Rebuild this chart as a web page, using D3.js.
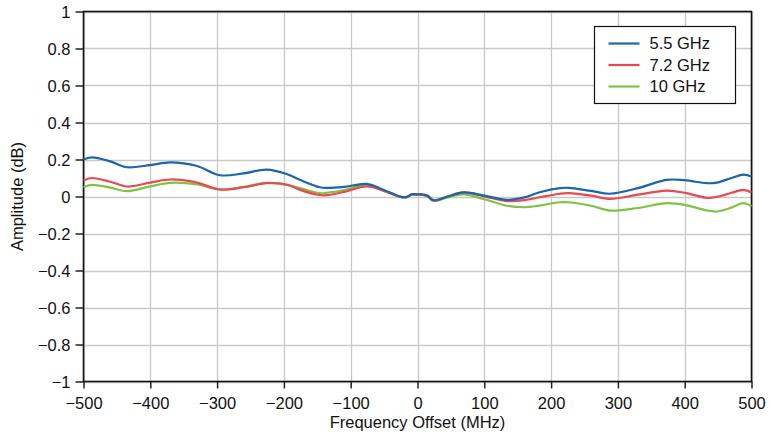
<!DOCTYPE html>
<html>
<head>
<meta charset="utf-8">
<script src="https://cdn.jsdelivr.net/npm/d3@7"></script>
<style>
  body { margin: 0; background: #fff; }
  text { font-family: "Liberation Sans", Arial, sans-serif; }
</style>
</head>
<body>
<div id="chart-area"></div>
<script>
// frequency offsets (MHz) shared by the three traces
var offsets = [-500, -488, -460, -435, -400, -370, -330, -296, -260, -226, -196, -176, -146, -136, -110, -76, -50, -26, -16, -9, 0, 6, 15, 24, 45, 69, 100, 134, 160, 183, 213, 226, 260, 288, 330, 373, 400, 433, 448, 470, 488, 500]

var amp55 = [0.200, 0.212, 0.190, 0.158, 0.170, 0.185, 0.165, 0.115, 0.125, 0.145, 0.122, 0.090, 0.050, 0.047, 0.052, 0.068, 0.035, 0.000, -0.002, 0.012, 0.012, 0.012, 0.005, -0.020, 0.000, 0.022, 0.005, -0.018, -0.005, 0.023, 0.045, 0.047, 0.030, 0.015, 0.045, 0.090, 0.088, 0.072, 0.075, 0.100, 0.118, 0.108]
var amp72 = [0.086, 0.100, 0.080, 0.054, 0.075, 0.092, 0.075, 0.038, 0.050, 0.072, 0.065, 0.036, 0.008, 0.007, 0.025, 0.054, 0.030, -0.002, -0.004, 0.010, 0.010, 0.010, 0.002, -0.022, 0.000, 0.022, 0.000, -0.025, -0.020, -0.004, 0.015, 0.018, 0.005, -0.013, 0.010, 0.032, 0.020, -0.007, -0.002, 0.020, 0.036, 0.022]
var amp10 = [0.050, 0.063, 0.048, 0.029, 0.055, 0.074, 0.065, 0.038, 0.052, 0.074, 0.062, 0.045, 0.018, 0.020, 0.035, 0.063, 0.030, -0.002, -0.004, 0.010, 0.010, 0.010, 0.000, -0.024, -0.005, 0.011, -0.015, -0.050, -0.058, -0.049, -0.031, -0.031, -0.050, -0.076, -0.062, -0.036, -0.045, -0.075, -0.081, -0.060, -0.036, -0.054]

var seriesNames = ["5.5 GHz", "7.2 GHz", "10 GHz"]
var seriesColors = ["#1b66aa", "#ea4a4f", "#80c343"]

var xTicks = [-500, -400, -300, -200, -100, 0, 100, 200, 300, 400, 500]
var yTicks = [-1, -0.8, -0.6, -0.4, -0.2, 0, 0.2, 0.4, 0.6, 0.8, 1]

var width = 772, height = 441
var margin = { left: 83.5, right: 20.5, top: 11.5, bottom: 59.5 }
var fs = 16.5

var svg = d3.select("#chart-area").append("svg")
  .attr("width", width)
  .attr("height", height)

var x = d3.scaleLinear().domain([-500, 500]).range([margin.left, width - margin.right])
var y = d3.scaleLinear().domain([-1, 1]).range([height - margin.bottom, margin.top])

var fmt = function (d) {
  return d3.format("")(d).replace("-", "\u2212")
}

// grid
svg.append("g").selectAll("line").data(xTicks).enter().append("line")
  .attr("x1", function (d) { return Math.round(x(d)) + 0.5 })
  .attr("x2", function (d) { return Math.round(x(d)) + 0.5 })
  .attr("y1", y(1)).attr("y2", y(-1))
  .attr("stroke", "#c9c9c9").attr("stroke-width", 1.3)
svg.append("g").selectAll("line").data(yTicks).enter().append("line")
  .attr("y1", function (d) { return Math.round(y(d)) + 0.5 })
  .attr("y2", function (d) { return Math.round(y(d)) + 0.5 })
  .attr("x1", x(-500)).attr("x2", x(500))
  .attr("stroke", "#c9c9c9").attr("stroke-width", 1.3)

// axes
var xAxis = svg.append("g")
  .attr("transform", "translate(0," + y(-1) + ")")
  .call(d3.axisBottom(x).tickValues(xTicks).tickFormat(fmt).tickSize(7).tickSizeOuter(0))
var yAxis = svg.append("g")
  .attr("transform", "translate(" + x(-500) + ",0)")
  .call(d3.axisLeft(y).tickValues(yTicks).tickFormat(fmt).tickSize(8).tickSizeOuter(0))

xAxis.select(".domain").remove()
yAxis.select(".domain").remove()
xAxis.selectAll("line").attr("stroke", "#222").attr("stroke-width", 1.5)
yAxis.selectAll("line").attr("stroke", "#222").attr("stroke-width", 1.5)
xAxis.selectAll("text").attr("font-size", fs).attr("fill", "#111").attr("y", 27).attr("dy", 0)
yAxis.selectAll("text").attr("font-size", fs).attr("fill", "#111").attr("x", -13).attr("dy", "0.35em")

// frame
svg.append("rect")
  .attr("x", x(-500)).attr("y", y(1))
  .attr("width", x(500) - x(-500)).attr("height", y(-1) - y(1))
  .attr("fill", "none").attr("stroke", "#111").attr("stroke-width", 1.6)

// lines
var line = d3.line()
  .x(function (d) { return x(d[0]) })
  .y(function (d) { return y(d[1]) })
  .curve(d3.curveCatmullRom.alpha(0.5))

var allSeries = [amp10, amp72, amp55]
var allColors = [seriesColors[2], seriesColors[1], seriesColors[0]]
allSeries.forEach(function (vals, i) {
  svg.append("path")
    .datum(offsets.map(function (o, j) { return [o, vals[j]] }))
    .attr("d", line)
    .attr("fill", "none")
    .attr("stroke", allColors[i])
    .attr("stroke-width", 2.2)
})

// legend
var lg = svg.append("g").attr("transform", "translate(594.5,26.5)")
lg.append("rect").attr("width", 141).attr("height", 77)
  .attr("fill", "#fff").attr("stroke", "#111").attr("stroke-width", 1.2)
seriesNames.forEach(function (name, i) {
  var yy = 17 + i * 21.5
  lg.append("line").attr("x1", 14).attr("x2", 45).attr("y1", yy).attr("y2", yy)
    .attr("stroke", seriesColors[i]).attr("stroke-width", 2.2)
  lg.append("text").attr("x", 55).attr("y", yy).attr("dy", "0.36em")
    .attr("font-size", fs).attr("fill", "#111").text(name)
})

// axis titles
svg.append("text")
  .attr("x", (x(-500) + x(500)) / 2).attr("y", 428)
  .attr("text-anchor", "middle").attr("font-size", fs).attr("fill", "#111")
  .text("Frequency Offset (MHz)")
svg.append("text")
  .attr("transform", "translate(23," + y(0) + ") rotate(-90)")
  .attr("text-anchor", "middle").attr("font-size", fs).attr("fill", "#111")
  .text("Amplitude (dB)")
</script>
</body>
</html>
